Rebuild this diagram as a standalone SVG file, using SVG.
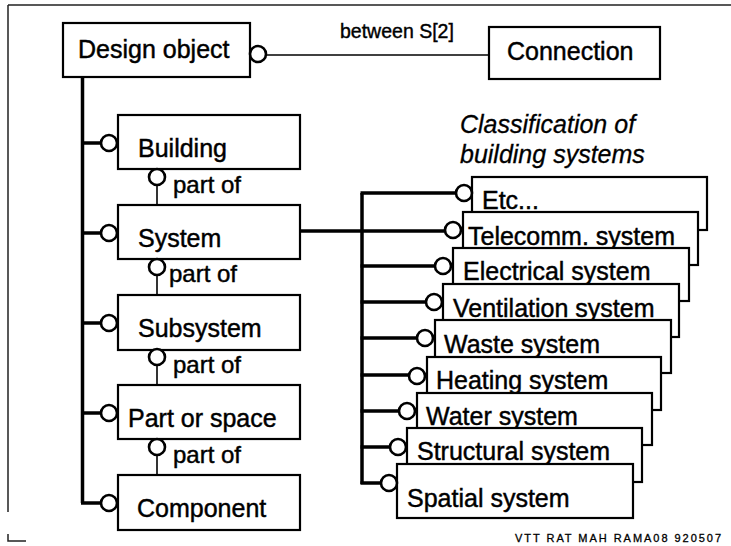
<svg xmlns="http://www.w3.org/2000/svg" width="731" height="546" viewBox="0 0 731 546">
<style>
  .box { fill: #fff; stroke: #000; stroke-width: 2.2; }
  .lbl { font-family: "Liberation Sans", Arial, sans-serif; font-size: 25px; fill: #000; stroke: #000; stroke-width: 0.45; }
  .sm { font-family: "Liberation Sans", Arial, sans-serif; font-size: 24px; fill: #000; stroke: #000; stroke-width: 0.45; }
  .rel { font-family: "Liberation Sans", Arial, sans-serif; font-size: 19.5px; fill: #000; stroke: #000; stroke-width: 0.4; }
  .ital { font-family: "Liberation Sans", Arial, sans-serif; font-size: 25px; font-style: italic; fill: #000; stroke: #000; stroke-width: 0.3; }
  .foot { font-family: "Liberation Sans", Arial, sans-serif; font-size: 11px; fill: #000; stroke: #000; stroke-width: 0.3; }
  .thick { stroke: #000; stroke-width: 3.5; fill: none; }
  .thin { stroke: #000; stroke-width: 1.6; fill: none; }
  .ring { fill: #fff; stroke: #000; stroke-width: 2.6; }
  .frame { stroke: #222; stroke-width: 1.5; fill: none; }
</style>
<rect width="731" height="546" fill="#fff"/>
<g id="frame">
  <path class="frame" d="M8 5 H731 M8 5 V512"/>
  <path class="frame" d="M8 534 V541 H26" stroke-width="1"/>
</g>

<g id="connectors">
  <line class="thin" x1="266" y1="55" x2="489" y2="55"/>
  <path class="thick" d="M82.5 77 V503"/>
  <path class="thick" d="M81 143 H101 M81 233 H101 M81 323 H101 M81 413 H101 M81 503 H101"/>
  <line class="thin" x1="157" y1="185" x2="157" y2="205"/>
  <line class="thin" x1="157" y1="275" x2="157" y2="295"/>
  <line class="thin" x1="157" y1="365" x2="157" y2="385"/>
  <line class="thin" x1="157" y1="455" x2="157" y2="475"/>
  <path class="thick" d="M300 231 H445"/>
  <path class="thick" d="M362 193 V484"/>
  <path class="thick" d="M360.5 193 H456 M360.5 266 H435 M360.5 302 H426 M360.5 338 H417 M360.5 375 H409 M360.5 411 H399 M360.5 447 H390 M360.5 483 H381"/>
</g>

<g id="design-object">
  <rect class="box" x="63" y="23" width="187" height="54"/>
  <text class="lbl" x="78" y="58">Design object</text>
  <circle class="ring" cx="258" cy="54" r="8"/>
</g>
<g id="relation-label">
  <text class="rel" x="340" y="38">between S[2]</text>
</g>
<g id="connection">
  <rect class="box" x="489" y="27" width="171" height="52"/>
  <text class="lbl" x="507" y="60">Connection</text>
</g>

<g id="building">
  <rect class="box" x="118" y="115" width="182" height="54"/>
  <text class="lbl" x="138" y="157">Building</text>
  <circle class="ring" cx="109" cy="143" r="8"/>
</g>
<g id="system">
  <rect class="box" x="118" y="205" width="182" height="54"/>
  <text class="lbl" x="138" y="247">System</text>
  <circle class="ring" cx="109" cy="233" r="8"/>
</g>
<g id="subsystem">
  <rect class="box" x="118" y="295" width="182" height="55"/>
  <text class="lbl" x="138" y="337">Subsystem</text>
  <circle class="ring" cx="109" cy="323" r="8"/>
</g>
<g id="part-or-space">
  <rect class="box" x="118" y="385" width="182" height="54"/>
  <text class="lbl" x="128" y="427">Part or space</text>
  <circle class="ring" cx="109" cy="413" r="8"/>
</g>
<g id="component">
  <rect class="box" x="118" y="475" width="182" height="55"/>
  <text class="lbl" x="137" y="517">Component</text>
  <circle class="ring" cx="109" cy="503" r="8"/>
</g>

<g id="part-of-1">
  <circle class="ring" cx="157" cy="177" r="8"/>
  <text class="sm" x="173" y="193">part of</text>
</g>
<g id="part-of-2">
  <circle class="ring" cx="157" cy="267" r="8"/>
  <text class="sm" x="169" y="282">part of</text>
</g>
<g id="part-of-3">
  <circle class="ring" cx="157" cy="357" r="8"/>
  <text class="sm" x="173" y="373">part of</text>
</g>
<g id="part-of-4">
  <circle class="ring" cx="157" cy="447" r="8"/>
  <text class="sm" x="173" y="463">part of</text>
</g>

<g id="classification-title">
  <text class="ital" x="460" y="133">Classification of</text>
  <text class="ital" x="460" y="163">building systems</text>
</g>

<g id="etc">
  <rect class="box" x="472" y="177" width="235" height="53"/>
  <circle class="ring" cx="464" cy="193" r="8"/>
  <text class="lbl" x="482" y="209">Etc...</text>
</g>
<g id="telecomm">
  <rect class="box" x="463" y="212" width="235" height="53"/>
  <circle class="ring" cx="453" cy="230" r="8"/>
  <text class="lbl" x="468" y="245">Telecomm. system</text>
</g>
<g id="electrical">
  <rect class="box" x="453" y="248" width="236" height="53"/>
  <circle class="ring" cx="443" cy="266" r="8"/>
  <text class="lbl" x="463" y="280">Electrical system</text>
</g>
<g id="ventilation">
  <rect class="box" x="443" y="284" width="236" height="53"/>
  <circle class="ring" cx="434" cy="302" r="8"/>
  <text class="lbl" x="453" y="317">Ventilation system</text>
</g>
<g id="waste">
  <rect class="box" x="435" y="320" width="236" height="53"/>
  <circle class="ring" cx="425" cy="338" r="8"/>
  <text class="lbl" x="444" y="353">Waste system</text>
</g>
<g id="heating">
  <rect class="box" x="427" y="357" width="234" height="53"/>
  <circle class="ring" cx="417" cy="376" r="8"/>
  <text class="lbl" x="436" y="389">Heating system</text>
</g>
<g id="water">
  <rect class="box" x="417" y="393" width="235" height="52"/>
  <circle class="ring" cx="407" cy="411" r="8"/>
  <text class="lbl" x="426" y="425">Water system</text>
</g>
<g id="structural">
  <rect class="box" x="407" y="428" width="235" height="54"/>
  <circle class="ring" cx="398" cy="447" r="8"/>
  <text class="lbl" x="417" y="460">Structural system</text>
</g>
<g id="spatial">
  <rect class="box" x="397" y="464" width="236" height="54"/>
  <circle class="ring" cx="389" cy="483" r="8"/>
  <text class="lbl" x="407" y="507">Spatial system</text>
</g>

<g id="footer">
  <text class="foot" x="515" y="542" textLength="206" lengthAdjust="spacing">VTT RAT MAH RAMA08 920507</text>
</g>
</svg>
